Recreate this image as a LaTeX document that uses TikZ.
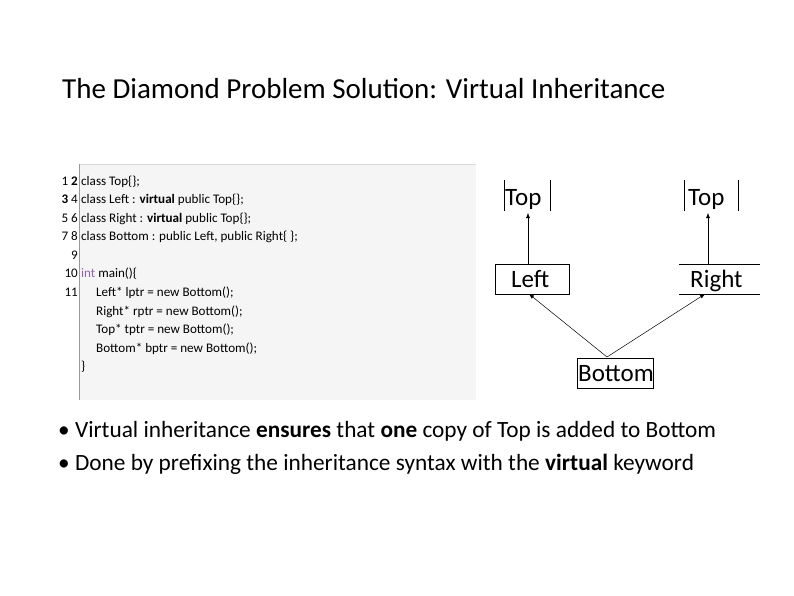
\documentclass[tikz,border=0pt]{standalone}
\usepackage{fontspec}
\setmainfont{Carlito}
\usetikzlibrary{arrows.meta}
\begin{document}
\begin{tikzpicture}[x=1pt,y=-1pt,
  code/.style={anchor=base west,inner sep=0pt,font=\fontsize{13.1}{15}\selectfont},
  num/.style={anchor=base east,inner sep=0pt,font=\fontsize{13.1}{15}\selectfont},
  cls/.style={inner sep=0pt,font=\fontsize{25}{28}\selectfont},
  arr/.style={-{Latex[length=5pt,width=4pt]},line width=0.5pt},
  bul/.style={anchor=base west,inner sep=0pt,font=\fontsize{23.3}{26}\selectfont}]
\useasboundingbox (0,0) rectangle (794,595);
\node[anchor=base west,inner sep=0pt,font=\fontsize{29}{32}\selectfont] (title) at (62,98) {The Diamond Problem Solution: Virtual Inheritance};
\fill[black!4] (79,164) rectangle (476,400);
\draw[black!15,line width=0.8pt] (79,164) -- (476,164);
\draw[black!40,line width=0.6pt] (79,164) -- (79,400);
\node[num] (n1) at (78,185) {1 \textbf{2}};
\node[num] (n2) at (78,203) {\textbf{3} 4};
\node[num] (n3) at (78,222) {5 6};
\node[num] (n4) at (78,240) {7 8};
\node[num] (n5) at (78,259) {9};
\node[num] (n6) at (78,277) {10};
\node[num] (n7) at (78,296) {11};
\node[code] (c1) at (81,185) {class Top\{\};};
\node[code] (c2) at (81,203) {class Left : \textbf{virtual} public Top\{\};};
\node[code] (c3) at (81,222) {class Right : \textbf{virtual} public Top\{\};};
\node[code] (c4) at (81,240) {class Bottom : public Left, public Right\{ \};};
\node[code] (c6) at (81,277) {\textcolor[RGB]{150,100,170}{int} main()\{};
\node[code] (c7) at (96,296) {Left* lptr = new Bottom();};
\node[code] (c8) at (96,315) {Right* rptr = new Bottom();};
\node[code] (c9) at (96,333) {Top* tptr = new Bottom();};
\node[code] (c10) at (96,352) {Bottom* bptr = new Bottom();};
\node[code] (c11) at (81,370) {\}};
% diagram
\node[cls,anchor=base west] (top1) at (505,205) {Top};
\draw[line width=0.5pt] (504,180) -- (504,211) (550,180) -- (550,211);
\node[cls,anchor=base west] (top2) at (688,205) {Top};
\draw[line width=0.5pt] (684,180) -- (684,211) (738,180) -- (738,211);
\draw[line width=0.5pt] (495,264) rectangle (569,294);
\node[cls,anchor=base west] (left) at (511,287) {Left};
\node[cls,anchor=base west] (right) at (690,287) {Right};
\draw[line width=0.5pt] (679,264) -- (760,264) (679,294) -- (760,294);
\draw[line width=0.5pt] (577,358) rectangle (653,388);
\node[cls,anchor=base west] (bot) at (578,381) {Bottom};
\coordinate (lt) at (528,264);
\coordinate (rt) at (708,264);
\coordinate (t1) at (528,213);
\coordinate (t2) at (708,213);
\draw[arr] (lt) -- (t1);
\draw[arr] (rt) -- (t2);
\coordinate (bp) at (607,357);
\coordinate (lb) at (529,294);
\coordinate (rb) at (705,294);
\draw[arr] (bp) -- (lb);
\draw[arr] (bp) -- (rb);
\node[bul] (b1) at (58,437) {\textbullet\ Virtual inheritance \textbf{ensures} that \textbf{one} copy of Top is added to Bottom};
\node[bul] (b2) at (58,470) {\textbullet\ Done by prefixing the inheritance syntax with the \textbf{virtual} keyword};
\end{tikzpicture}
\end{document}
